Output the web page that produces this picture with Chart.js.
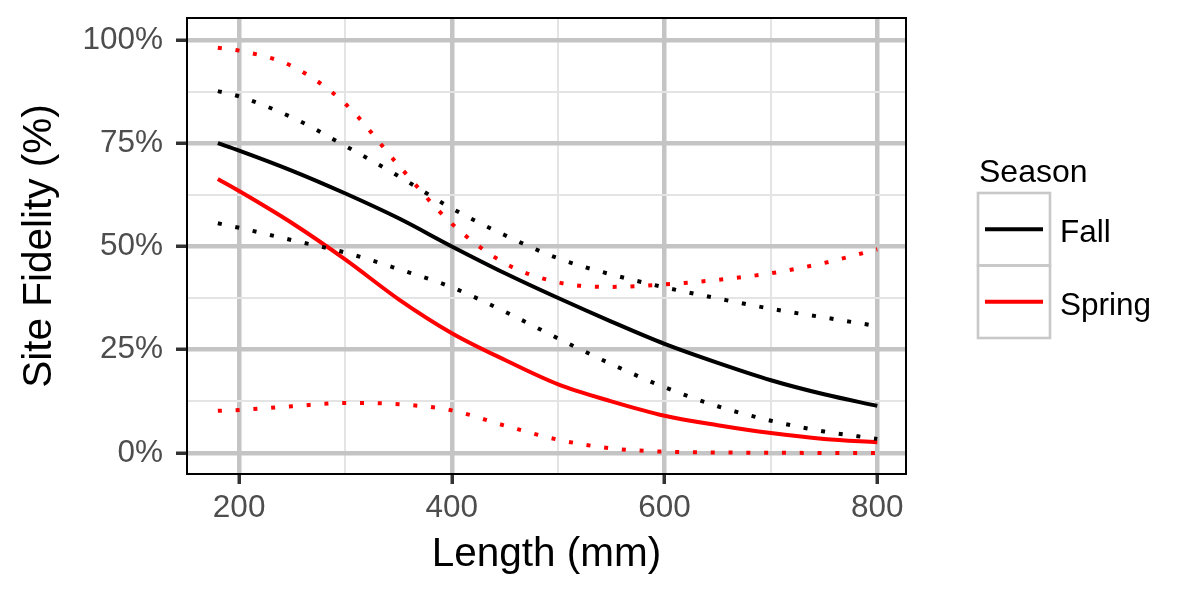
<!DOCTYPE html>
<html>
<head>
<meta charset="utf-8">
<script src="https://cdn.jsdelivr.net/npm/chart.js@4.4.1/dist/chart.umd.min.js"></script>
<style>
  body { margin: 0; background: #fff; }
</style>
</head>
<body>
<canvas id="fidelityChart" width="1199" height="599"></canvas>
<script>
// fish length (mm) where the curves were read
const lengths = [180, 200, 250, 300, 350, 400, 450, 500, 550, 600, 650, 700, 750, 800];

// site fidelity (%) fit and confidence bounds
const fallFit     = [75.0, 73.2, 68.3, 62.8, 56.8, 50.0, 43.5, 37.5, 31.8, 26.4, 21.8, 17.6, 14.2, 11.4];
const fallUpper   = [87.6, 86.3, 81.2, 74.3, 67.0, 59.2, 52.7, 47.1, 43.2, 40.1, 37.4, 34.9, 32.8, 30.7];
const fallLower   = [55.6, 54.5, 51.5, 48.5, 44.5, 40.1, 34.2, 27.7, 21.5, 15.9, 11.3, 7.8, 5.2, 3.4];
const springFit   = [66.3, 63.4, 55.6, 46.8, 37.2, 29.0, 22.5, 16.6, 12.5, 9.0, 6.7, 4.8, 3.4, 2.6];
const springUpper = [98.1, 97.4, 93.6, 84.5, 69.6, 55.5, 45.9, 41.3, 40.2, 40.8, 41.9, 43.5, 46.0, 49.3];
const springLower = [10.2, 10.4, 11.3, 12.1, 11.8, 10.3, 6.6, 3.2, 1.1, 0.3, 0.1, 0.05, 0, 0];

const xTicks = [200, 300, 400, 500, 600, 700, 800];
const yTicks = [0, 12.5, 25, 37.5, 50, 62.5, 75, 87.5, 100];

const seasons = ['Fall', 'Spring'];
const seasonColors = ['#000000', '#ff0000'];

const FONT = "'Liberation Sans', Arial, sans-serif";

function pts(values) {
  return values.map((v, i) => ({ x: lengths[i], y: v }));
}

function series(label, values, color, dotted) {
  return {
    label: label,
    data: pts(values),
    borderColor: color,
    borderWidth: 4,
    borderDash: dotted ? [4, 13.8] : [],
    borderCapStyle: 'butt',
    pointRadius: 0,
    fill: false,
    cubicInterpolationMode: 'monotone'
  };
}

const datasets = [
  series('Fall', fallFit, seasonColors[0], false),
  series('Fall upper', fallUpper, seasonColors[0], true),
  series('Fall lower', fallLower, seasonColors[0], true),
  series('Spring', springFit, seasonColors[1], false),
  series('Spring upper', springUpper, seasonColors[1], true),
  series('Spring lower', springLower, seasonColors[1], true)
];

const isMajorX = v => v % 200 === 0;
const isMajorY = v => v % 25 === 0;

// ggplot-ish panel border + legend
const panelPlugin = {
  id: 'panel',
  afterDatasetsDraw(chart) {
    const { ctx, chartArea: a } = chart;
    ctx.save();
    ctx.strokeStyle = '#000';
    ctx.lineWidth = 2;
    ctx.strokeRect(a.left, a.top, a.right - a.left, a.bottom - a.top);
    ctx.restore();
  },
  afterDraw(chart) {
    const ctx = chart.ctx;
    ctx.save();
    ctx.fillStyle = '#000';
    ctx.textBaseline = 'alphabetic';
    ctx.textAlign = 'left';
    ctx.font = '32px ' + FONT;
    ctx.fillText('Season', 979, 182);

    const boxX = 978, boxTop = 193, boxW = 72, boxH = 72.5;
    seasons.forEach((name, i) => {
      const top = boxTop + i * boxH;
      ctx.strokeStyle = '#c8c8c8';
      ctx.lineWidth = 2.6;
      ctx.strokeRect(boxX, top, boxW, boxH);
      ctx.strokeStyle = seasonColors[i];
      ctx.lineWidth = 4;
      ctx.beginPath();
      ctx.moveTo(boxX + 7, top + boxH / 2);
      ctx.lineTo(boxX + boxW - 7, top + boxH / 2);
      ctx.stroke();
      ctx.fillStyle = '#000';
      ctx.font = '31.5px ' + FONT;
      ctx.fillText(name, 1060, top + 49);
    });
    ctx.restore();
  }
};

new Chart(document.getElementById('fidelityChart'), {
  type: 'line',
  data: { datasets: datasets },
  plugins: [panelPlugin],
  options: {
    responsive: false,
    animation: false,
    devicePixelRatio: 1,
    layout: { padding: { left: 0, top: 18, right: 293, bottom: 0 } },
    plugins: {
      legend: { display: false },
      tooltip: { enabled: false }
    },
    scales: {
      x: {
        type: 'linear',
        min: 151,
        max: 827,
        afterBuildTicks: scale => { scale.ticks = xTicks.map(v => ({ value: v })); },
        afterFit: scale => {
          scale.height = 125;
          scale.paddingLeft = 0;
          scale.paddingRight = 0;
        },
        border: { display: false },
        grid: {
          color: c => isMajorX(c.tick.value) ? '#c4c4c4' : '#e4e4e4',
          lineWidth: c => isMajorX(c.tick.value) ? 4.5 : 2,
          tickColor: c => isMajorX(c.tick.value) ? '#333333' : 'rgba(0,0,0,0)',
          tickWidth: 3.5,
          tickLength: 10,
          drawOnChartArea: true
        },
        ticks: {
          autoSkip: false,
          maxRotation: 0,
          padding: 5,
          color: '#4d4d4d',
          font: { family: FONT, size: 31.5 },
          callback: v => isMajorX(v) ? String(v) : ''
        },
        title: {
          display: true,
          text: 'Length (mm)',
          color: '#000',
          font: { family: FONT, size: 40.5 },
          padding: { top: 0, bottom: 20 }
        }
      },
      y: {
        type: 'linear',
        min: -5.1,
        max: 105.3,
        afterBuildTicks: scale => { scale.ticks = yTicks.map(v => ({ value: v })); },
        afterFit: scale => {
          scale.width = 187;
          scale.paddingTop = 0;
          scale.paddingBottom = 0;
        },
        border: { display: false },
        grid: {
          color: c => isMajorY(c.tick.value) ? '#c4c4c4' : '#e4e4e4',
          lineWidth: c => isMajorY(c.tick.value) ? 4.5 : 2,
          tickColor: c => isMajorY(c.tick.value) ? '#333333' : 'rgba(0,0,0,0)',
          tickWidth: 3.5,
          tickLength: 11
        },
        ticks: {
          autoSkip: false,
          padding: 13,
          color: '#4d4d4d',
          font: { family: FONT, size: 31.5 },
          callback: v => isMajorY(v) ? v + '%' : ''
        },
        title: {
          display: true,
          text: 'Site Fidelity (%)',
          color: '#000',
          font: { family: FONT, size: 40.5 },
          padding: { top: 16, bottom: 0 }
        }
      }
    }
  }
});
</script>
</body>
</html>
